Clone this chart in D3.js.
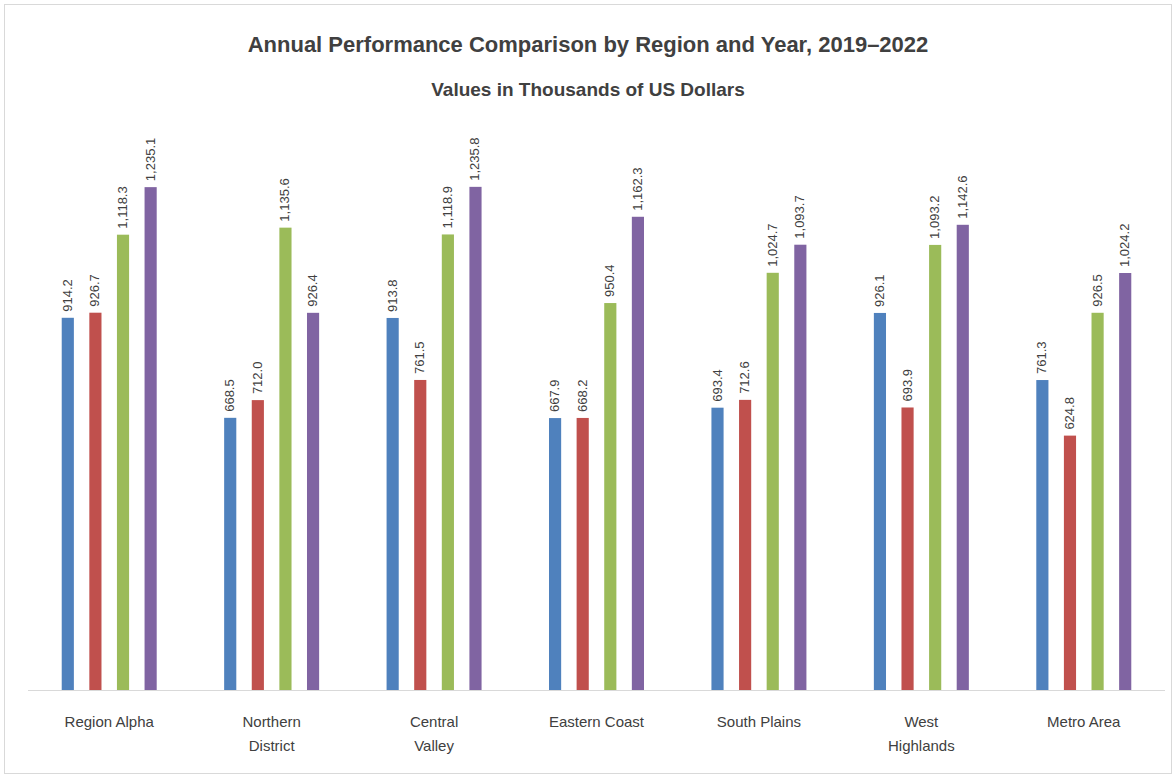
<!DOCTYPE html>
<html>
<head>
<meta charset="utf-8">
<script src="https://cdn.jsdelivr.net/npm/d3@7"></script>
<style>
  html, body { margin: 0; padding: 0; background: #ffffff; }
  svg { display: block; font-family: "Liberation Sans", Arial, sans-serif; }
</style>
</head>
<body>
<svg id="chart" width="1176" height="778"></svg>
<script>
// ---- data ----
const categories = [
  ["Region Alpha"],
  ["Northern", "District"],
  ["Central", "Valley"],
  ["Eastern Coast"],
  ["South Plains"],
  ["West", "Highlands"],
  ["Metro Area"]
];
const seriesNames = ["2019", "2020", "2021", "2022"];
const series2019 = [914.2, 668.5, 913.8, 667.9, 693.4, 926.1, 761.3];
const series2020 = [926.7, 712.0, 761.5, 668.2, 712.6, 693.9, 624.8];
const series2021 = [1118.3, 1135.6, 1118.9, 950.4, 1024.7, 1093.2, 926.5];
const series2022 = [1235.1, 926.4, 1235.8, 1162.3, 1093.7, 1142.6, 1024.2];
const titleLines = ["Annual Performance Comparison by Region and Year, 2019–2022", "Values in Thousands of US Dollars"];
const seriesColors = ["#4F81BD", "#C0504D", "#9BBB59", "#8064A2"];

const allSeries = [series2019, series2020, series2021, series2022];

// ---- layout ----
const W = 1176, H = 778;
const svg = d3.select("#chart");

svg.append("rect")
  .attr("x", 4.5).attr("y", 4.5)
  .attr("width", W - 9).attr("height", H - 9)
  .attr("fill", "#ffffff")
  .attr("stroke", "#d9d9d9").attr("stroke-width", 1);

const x0 = d3.scaleBand()
  .domain(d3.range(categories.length))
  .range([28, 1165])
  .paddingInner(0.32).paddingOuter(0.16);

const x1 = d3.scaleBand()
  .domain(d3.range(seriesNames.length))
  .range([0, x0.bandwidth()])
  .paddingInner(0.56).paddingOuter(0.28);

const y = d3.scaleLinear().domain([0, 1400]).range([690, 120]);

// title
svg.append("g").selectAll("text")
  .data(titleLines)
  .join("text")
  .attr("x", W / 2)
  .attr("y", (d, i) => 52 + i * 44)
  .attr("text-anchor", "middle")
  .attr("font-size", (d, i) => i === 0 ? 22 : 19)
  .attr("font-weight", "bold")
  .attr("fill", "#404040")
  .text(d => d);

// bars
const groups = svg.append("g").selectAll("g")
  .data(categories.map((c, i) => i))
  .join("g")
  .attr("transform", i => `translate(${x0(i)},0)`);

groups.selectAll("rect")
  .data(i => allSeries.map((s, k) => ({ k, v: s[i] })))
  .join("rect")
  .attr("x", d => x1(d.k))
  .attr("y", d => y(d.v))
  .attr("width", x1.bandwidth())
  .attr("height", d => y(0) - y(d.v))
  .attr("fill", d => seriesColors[d.k]);

// value labels (rotated)
groups.selectAll("text.val")
  .data(i => allSeries.map((s, k) => ({ k, v: s[i] })))
  .join("text")
  .attr("class", "val")
  .attr("transform", d => `translate(${x1(d.k) + x1.bandwidth() / 2 + 4},${y(d.v) - 6}) rotate(-90)`)
  .attr("text-anchor", "start")
  .attr("font-size", 13)
  .attr("fill", "#404040")
  .text(d => d3.format(",.1f")(d.v));

// baseline
svg.append("line")
  .attr("x1", 28).attr("x2", 1165)
  .attr("y1", y(0) + 0.5).attr("y2", y(0) + 0.5)
  .attr("stroke", "#d9d9d9");

// category labels
const catG = svg.append("g").selectAll("text")
  .data(categories)
  .join("text")
  .attr("x", (d, i) => x0(i) + x0.bandwidth() / 2)
  .attr("y", 727)
  .attr("text-anchor", "middle")
  .attr("font-size", 15)
  .attr("fill", "#404040");

catG.selectAll("tspan")
  .data(d => d)
  .join("tspan")
  .attr("x", function () { return d3.select(this.parentNode).attr("x"); })
  .attr("dy", (d, i) => i === 0 ? 0 : 24)
  .text(d => d);
</script>
</body>
</html>
